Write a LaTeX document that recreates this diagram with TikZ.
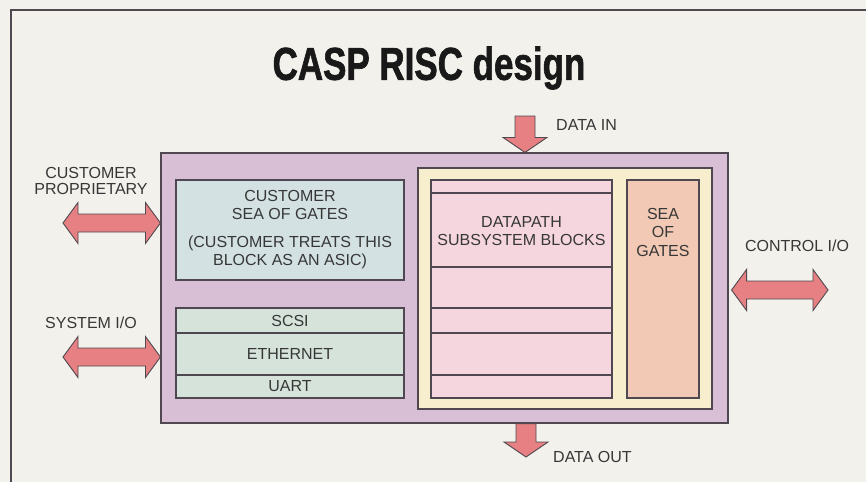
\documentclass[tikz,border=0pt]{standalone}
\usepackage{fontspec}
\setmainfont{Liberation Sans}
\newfontfamily\titlefont{Liberation Sans Bold}[FakeBold=1.6]
\usetikzlibrary{calc}
\definecolor{paper}{RGB}{243,241,236}
\definecolor{ink}{RGB}{55,55,55}
\definecolor{edge}{RGB}{80,72,80}
\definecolor{lilac}{RGB}{216,191,214}
\definecolor{bluegray}{RGB}{211,225,227}
\definecolor{mint}{RGB}{213,227,219}
\definecolor{cream}{RGB}{246,238,204}
\definecolor{rosy}{RGB}{245,214,222}
\definecolor{peach}{RGB}{241,201,180}
\definecolor{salmon}{RGB}{230,128,130}

\tikzset{
  block/.style={draw=edge, line width=1.1pt, inner sep=0pt, align=center, text=ink,
    font=\fontsize{16}{18}\selectfont},
  lbl/.style={text=ink, align=center, inner sep=0pt, font=\fontsize{16}{17.5}\selectfont},
  ioarrow/.style={fill=salmon, draw=edge, line width=0.9pt, line join=miter}
}

% single fat arrow: tail, tip
\newcommand{\fatarrow}[2]{%
  \coordinate (fa-h) at ($(#2)!15pt!(#1)$);
  \draw[ioarrow] ($(#1)!10pt!90:(#2)$) -- ($(fa-h)!10pt!-90:(#1)$) -- ($(fa-h)!22pt!-90:(#1)$)
    -- (#2) -- ($(fa-h)!22pt!90:(#1)$) -- ($(fa-h)!10pt!90:(#1)$) -- ($(#1)!10pt!-90:(#2)$) -- cycle;}
% double fat arrow between two points
\newcommand{\twoway}[2]{%
  \coordinate (tw-a) at ($(#1)!15pt!(#2)$);
  \coordinate (tw-b) at ($(#2)!15pt!(#1)$);
  \draw[ioarrow] (#1) -- ($(tw-a)!20.5pt!90:(#2)$) -- ($(tw-a)!9pt!90:(#2)$) -- ($(tw-b)!9pt!-90:(#1)$)
    -- ($(tw-b)!20.5pt!-90:(#1)$) -- (#2) -- ($(tw-b)!20.5pt!90:(#1)$) -- ($(tw-b)!9pt!90:(#1)$)
    -- ($(tw-a)!9pt!-90:(#2)$) -- ($(tw-a)!20.5pt!-90:(#2)$) -- cycle;}

\begin{document}
\begin{tikzpicture}[x=1pt, y=-1pt]
\path[use as bounding box, fill=paper] (0,0) rectangle (866,482);
\draw[edge, line width=1.2pt] (11,482) -- (11,10) -- (866,10);

\node[inner sep=0pt, text=black!90, font=\fontsize{46}{50}\selectfont\titlefont] (title) at (429,68)
  {\scalebox{0.76}[1]{CASP RISC design}};

% chip and its blocks
\node[block, fill=lilac, minimum width=567pt, minimum height=270pt] (chip) at (444.5,288) {};
\node[block, fill=bluegray, minimum width=228pt, minimum height=100pt] (custsog) at (290,230)
  {CUSTOMER\\SEA OF GATES\\[10pt](CUSTOMER TREATS THIS\\BLOCK AS AN ASIC)};
\node[block, fill=mint, minimum width=228pt, minimum height=25pt] (scsi) at (290,320.5) {SCSI};
\node[block, fill=mint, minimum width=228pt, minimum height=42pt] (ether) at (290,354) {ETHERNET};
\node[block, fill=mint, minimum width=228pt, minimum height=23pt] (uart) at (290,386.5) {UART};

\node[block, fill=cream, minimum width=294pt, minimum height=241pt] (core) at (565,288.5) {};
\node[block, fill=rosy, minimum width=181pt, minimum height=218pt] (datapath) at (521.5,289) {};
\foreach \y in {193,267,308,333,375}
  \draw[edge, line width=1.1pt] (datapath.west |- 0,\y) -- (datapath.east |- 0,\y);
\node[lbl] (dplabel) at (521.5,231) {DATAPATH\\SUBSYSTEM BLOCKS};
\node[block, fill=peach, minimum width=72pt, minimum height=218pt] (sog) at (663,289) {};
\node[lbl, font=\fontsize{16}{18.5}\selectfont] (soglabel) at (663,232) {SEA\\OF\\GATES};

% i/o arrows
\coordinate (din) at (525,116);
\coordinate (dintip) at (din |- chip.north);
\fatarrow{din}{dintip}
\node[lbl, anchor=west] (dinlabel) at (556,125) {DATA IN};

\coordinate (dout) at (526,457);
\coordinate (douttail) at (dout |- chip.south);
\fatarrow{douttail}{dout}
\node[lbl, anchor=west] (doutlabel) at (553,457) {DATA OUT};

\coordinate (cp) at (63,223);
\coordinate (cpend) at (cp -| chip.west);
\twoway{cp}{cpend}
\node[lbl, font=\fontsize{16}{16}\selectfont] (cplabel) at (91,180.5) {CUSTOMER\\PROPRIETARY};

\coordinate (sio) at (63,357);
\coordinate (sioend) at (sio -| chip.west);
\twoway{sio}{sioend}
\node[lbl] (siolabel) at (91,323) {SYSTEM I/O};

\coordinate (cio) at (828,290);
\coordinate (cioend) at ($(cio -| chip.east)+(3,0)$);
\twoway{cioend}{cio}
\node[lbl] (ciolabel) at (797,246) {CONTROL I/O};
\end{tikzpicture}
\end{document}
